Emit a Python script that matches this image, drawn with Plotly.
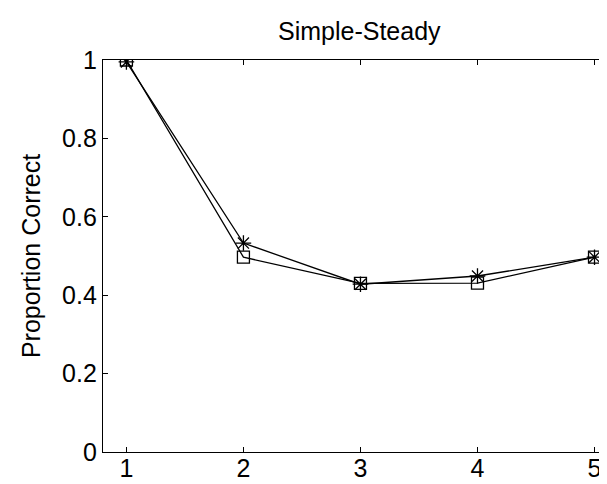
import plotly.graph_objects as go

x_vals = [1, 2, 3, 4, 5]
star_vals = [0.995, 0.533, 0.428, 0.449, 0.497]
square_vals = [1.0, 0.497, 0.430, 0.431, 0.497]
y_ticks = [0, 0.2, 0.4, 0.6, 0.8, 1]
y_tick_text = ["0", "0.2", "0.4", "0.6", "0.8", "1"]

FONT = "Liberation Sans, Arial, Helvetica, sans-serif"

fig = go.Figure()
fig.add_trace(go.Scatter(
    x=x_vals, y=square_vals, mode="lines+markers", name="Squares",
    line=dict(color="black", width=1.3),
    marker=dict(symbol="square-open", size=12, color="black", line=dict(width=1.3)),
))
fig.add_trace(go.Scatter(
    x=x_vals, y=star_vals, mode="lines+markers", name="Stars",
    line=dict(color="black", width=1.3),
    marker=dict(symbol="asterisk-open", size=13, color="black", line=dict(width=1.3, color="black")),
))
# dummy trace to activate the right-hand tick axis
fig.add_trace(go.Scatter(x=[None], y=[None], yaxis="y2", showlegend=False, hoverinfo="skip"))

fig.update_layout(
    width=607, height=484,
    margin=dict(l=95, r=0, t=52, b=40),
    paper_bgcolor="white", plot_bgcolor="white",
    showlegend=False,
    font=dict(family=FONT, size=25, color="black"),
    xaxis=dict(
        range=[0.8, 5.175], tickvals=x_vals, ticktext=[str(v) for v in x_vals],
        ticks="inside", ticklen=5, tickwidth=1, tickcolor="black",
        showline=True, linecolor="black", linewidth=1.3, mirror="ticks",
        showgrid=False, zeroline=False, ticklabelstandoff=-6,
        tickfont=dict(family=FONT, size=25),
    ),
    yaxis=dict(
        range=[0, 1], tickvals=y_ticks, ticktext=y_tick_text,
        ticks="inside", ticklen=5, tickwidth=1, tickcolor="black",
        showline=True, linecolor="black", linewidth=1.3, mirror=False,
        showgrid=False, zeroline=False,
        tickfont=dict(family=FONT, size=25),
        title=dict(text="Proportion Correct", font=dict(family=FONT, size=25), standoff=14),
    ),
    yaxis2=dict(
        overlaying="y", side="right", range=[0, 1], tickvals=y_ticks,
        ticks="inside", ticklen=5, tickwidth=1, tickcolor="black",
        showticklabels=False, showline=False, showgrid=False, zeroline=False,
    ),
    annotations=[dict(
        text="Simple-Steady", x=0.5, y=1, xref="paper", yref="paper",
        xanchor="center", yanchor="bottom", yshift=13, showarrow=False,
        font=dict(family=FONT, size=25),
    )],
)

fig.write_html("out.html")
